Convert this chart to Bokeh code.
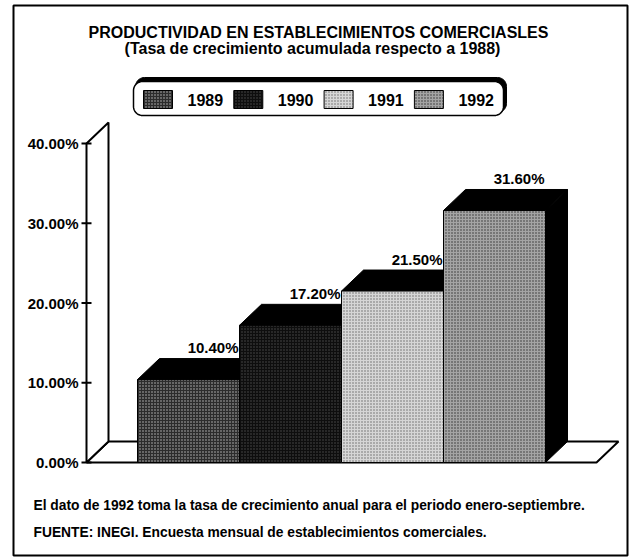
import math
from bokeh.plotting import figure
from bokeh.models import Range1d
from bokeh.embed import file_html
from bokeh.resources import INLINE
from bokeh.core.properties import value

# ---------------- data ----------------
years = ["1989", "1990", "1991", "1992"]
growth = [10.4, 17.2, 21.5, 31.6]
growth_labels = ["10.40%", "17.20%", "21.50%", "31.60%"]
y_ticks = [0, 10, 20, 30, 40]
y_tick_labels = ["0.00%", "10.00%", "20.00%", "30.00%", "40.00%"]
title_text = "PRODUCTIVIDAD EN ESTABLECIMIENTOS COMERCIASLES"
subtitle_text = "(Tasa de crecimiento acumulada respecto a 1988)"
note_text = "El dato de 1992 toma la tasa de crecimiento anual para el periodo enero-septiembre."
source_text = "FUENTE: INEGI. Encuesta mensual de establecimientos comerciales."

# ---------------- styles ----------------
bar_fill = ["#2c2c2c", "#0e0e0e", "#d6d6d6", "#a4a4a4"]
bar_hatch = ["#c0c0c0", "#505050", "#686868", "#303030"]
FONT = value("Liberation Sans")

# ---------------- layout (page pixels) ----------------
W, H = 632, 558
X0PX, XPX = 86.0, 102.0        # page x of the value axis, px per bar
Y0PX, YPX = 462.0, 7.975       # page y of 0 %, px per 1 %
FL, FR, FT, FB = 13, 627, 5, 555


def ux(px):
    return (px - X0PX) / XPX


def vy(py):
    return (Y0PX - py) / YPX


DX = 22 / XPX
DY = 21 / YPX
LBL_GAP = 11 / YPX

p = figure(width=W, height=H, output_backend="svg", toolbar_location=None,
           x_range=Range1d(ux(FL), ux(FR)), y_range=Range1d(vy(FB), vy(FT)),
           x_axis_location=None, y_axis_location=None,
           min_border_left=FL, min_border_right=W - FR,
           min_border_top=FT, min_border_bottom=H - FB)
p.grid.visible = False
p.outline_line_color = "black"
p.outline_line_width = 2
p.background_fill_color = "white"
p.border_fill_color = "white"

n = len(years)
ymax = y_ticks[-1]

# floor and left wall
p.patch([0, n + 1, n + 1 + DX, DX], [0, 0, DY, DY], fill_color="white",
        line_color="black", line_width=2)
p.patch([0, 0, DX, DX], [0, ymax, ymax + DY, DY], fill_color="white",
        line_color="black", line_width=2)

# ticks and tick labels
TL = 5 / XPX
p.segment(x0=[-TL] * len(y_ticks), x1=[TL] * len(y_ticks), y0=y_ticks, y1=y_ticks,
          line_color="black", line_width=2)
p.text(x=[ux(78)] * len(y_ticks), y=y_ticks, text=y_tick_labels, text_font=FONT,
       text_font_style="bold", text_font_size="15px", text_align="right",
       text_baseline="middle", text_color="black")

# bars
for i, v in enumerate(growth):
    x0, x1 = i + 0.5, i + 1.5
    p.patch([x1, x1, x1 + DX, x1 + DX], [0, v, v + DY, DY], fill_color="black",
            line_color="black", line_width=1)
    p.patch([x0, x1, x1 + DX, x0 + DX], [v, v, v + DY, v + DY], fill_color="black",
            line_color="black", line_width=1)
    p.quad(left=[x0], right=[x1], bottom=[0], top=[v], fill_color=bar_fill[i],
           hatch_pattern=".", hatch_color=bar_hatch[i], hatch_scale=3,
           hatch_weight=1, line_color="black", line_width=1)

p.text(x=[i + 1.5 - 1 / XPX for i in range(n)], y=[v + DY + LBL_GAP for v in growth],
       text=growth_labels, text_font=FONT, text_font_style="bold",
       text_font_size="15px", text_align="right", text_baseline="middle",
       text_color="black")


# legend box (rounded, with shadow)
def rounded(l, t, r, b, rad, k=10):
    xs, ys = [], []
    corners = [(r - rad, t + rad, -90, 0), (r - rad, b - rad, 0, 90),
               (l + rad, b - rad, 90, 180), (l + rad, t + rad, 180, 270)]
    for cx, cy, a0, a1 in corners:
        for j in range(k + 1):
            a = math.radians(a0 + (a1 - a0) * j / k)
            xs.append(ux(cx + rad * math.cos(a)))
            ys.append(vy(cy + rad * math.sin(a)))
    return xs, ys


sx, sy = rounded(135, 77, 506, 112, 9)
p.patch(sx, sy, fill_color="black", line_color="black")
bx, by = rounded(133, 81, 503, 115, 9)
p.patch(bx, by, fill_color="white", line_color="black", line_width=1.5)

for i, yr in enumerate(years):
    lx = 143 + i * 90.3
    p.quad(left=[ux(lx)], right=[ux(lx + 29)], top=[vy(90)], bottom=[vy(108)],
           fill_color=bar_fill[i], hatch_pattern=".", hatch_color=bar_hatch[i],
           hatch_scale=3, hatch_weight=1, line_color="black", line_width=1)
p.text(x=[ux(143 + i * 90.3 + 44) for i in range(n)], y=[vy(99)] * n, text=years,
       text_font=FONT, text_font_style="bold", text_font_size="16px",
       text_align="left", text_baseline="middle", text_color="black")

# titles and notes
p.text(x=[ux(318)], y=[vy(32)], text=[title_text], text_font=FONT,
       text_font_style="bold", text_font_size="16px", text_align="center",
       text_baseline="middle", text_color="black")
p.text(x=[ux(312)], y=[vy(48)], text=[subtitle_text], text_font=FONT,
       text_font_style="bold", text_font_size="16px", text_align="center",
       text_baseline="middle", text_color="black")
p.text(x=[ux(33)], y=[vy(505)], text=[note_text], text_font=FONT,
       text_font_style="bold", text_font_size="13.8px", text_align="left",
       text_baseline="middle", text_color="black")
p.text(x=[ux(33)], y=[vy(532)], text=[source_text], text_font=FONT,
       text_font_style="bold", text_font_size="13.8px", text_align="left",
       text_baseline="middle", text_color="black")

open("out.html", "w").write(file_html(p, INLINE))
